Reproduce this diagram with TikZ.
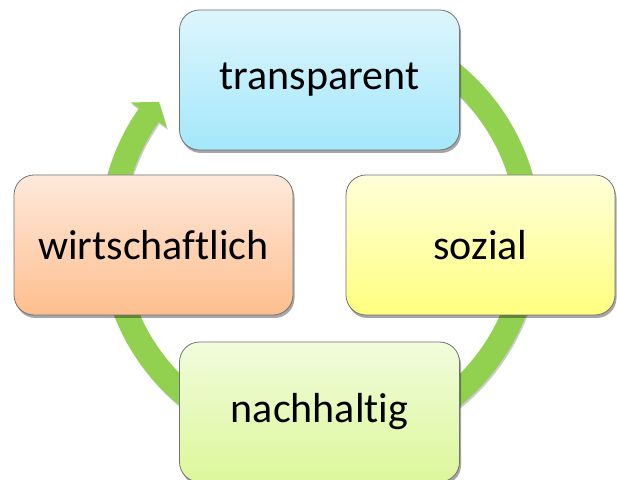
\documentclass[tikz,border=0pt]{standalone}
\usepackage{fontspec}
\setmainfont{Carlito}[Ligatures={NoCommon,NoRare,NoDiscretionary}]
\usetikzlibrary{shadows,calc}
\definecolor{ringgreen}{HTML}{92D050}
\definecolor{bluetop}{HTML}{DDF6FD}
\definecolor{bluebot}{HTML}{A4E7FB}
\definecolor{yeltop}{HTML}{FFFFDA}
\definecolor{yelbot}{HTML}{FFFF80}
\definecolor{grntop}{HTML}{F1FCDC}
\definecolor{grnbot}{HTML}{DCF79A}
\definecolor{orgtop}{HTML}{FEE9DB}
\definecolor{orgbot}{HTML}{FDBE8E}
\tikzset{
  cyclebox/.style={draw=black!55, line width=0.8pt, rounded corners=20pt,
    inner sep=0pt, font=\fontsize{42}{50}\selectfont,
    drop shadow={shadow xshift=1.5pt, shadow yshift=-3pt, opacity=0.35, fill=black}},
  ringstyle/.style={fill=ringgreen, draw=none,
    drop shadow={shadow xshift=1pt, shadow yshift=-2pt, opacity=0.2, fill=black}}
}
\begin{document}
\begin{tikzpicture}[x=1pt,y=1pt]
\useasboundingbox (0,0) rectangle (617,479);
\fill[white] (0,0) rectangle (617,479);
\coordinate (C) at (320,244);
% ring arrow
\path[ringstyle]
  ($(C)+(100:221)$) arc[start angle=100, end angle=-215, radius=221]
  -- ($(C)+(-215:231)$) -- ($(C)+(-219.6:209)$) -- ($(C)+(-215:187)$)
  -- ($(C)+(-215:197)$) arc[start angle=-215, end angle=100, radius=197] -- cycle;
% boxes
\node[cyclebox, top color=bluetop, bottom color=bluebot,
  minimum width=280pt, minimum height=140pt] (transparent) at (319.5,399) {transparent};
\node[cyclebox, top color=yeltop, bottom color=yelbot,
  minimum width=269pt, minimum height=140pt] (sozial) at (480.5,234) {sozial};
\node[cyclebox, top color=grntop, bottom color=grnbot,
  minimum width=280pt, minimum height=140pt] (nachhaltig) at (319.5,67) {nachhaltig};
\node[cyclebox, top color=orgtop, bottom color=orgbot,
  minimum width=279pt, minimum height=140pt] (wirtschaftlich) at (153.5,234) {wirtschaftlich};
\end{tikzpicture}
\end{document}
